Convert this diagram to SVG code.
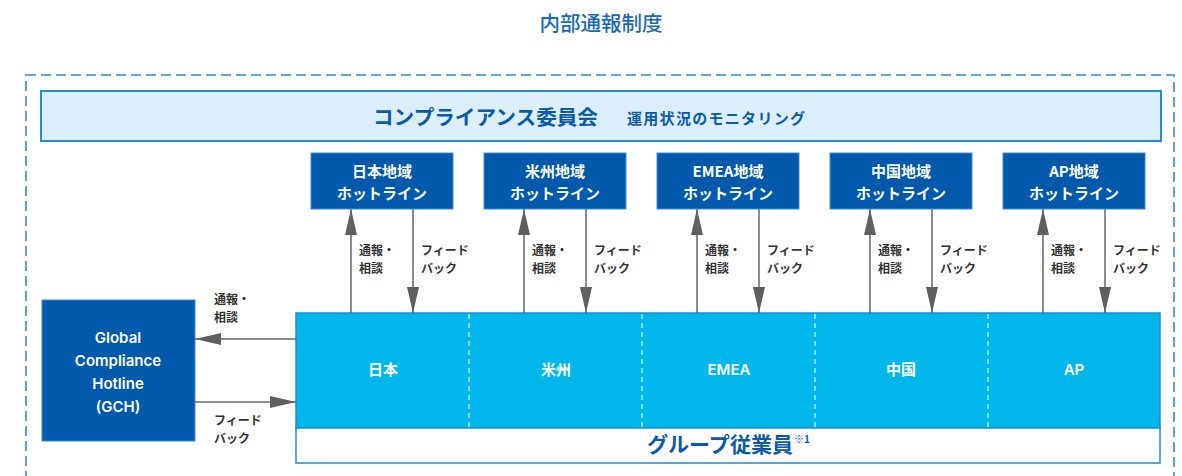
<svg xmlns="http://www.w3.org/2000/svg" width="1182" height="476" viewBox="0 0 1182 476">
<defs>
<style>
text{font-family:"Noto Sans CJK JP","Noto Sans",sans-serif;font-weight:700}
.hl rect{fill:#0059ab;stroke:#3d8fd6;stroke-width:1}
.hl text{fill:#fff;font-size:15px;text-anchor:middle}
.lbl{fill:#333;font-size:12px}
.conn line{stroke:#666;stroke-width:1.5}
.reg{fill:#fff;font-size:15px;text-anchor:middle}
.lat{font-family:Inter,"Noto Sans",sans-serif;font-weight:600}
.div{stroke:#fff;stroke-width:1;stroke-dasharray:5 4}
</style>
<marker id="ah" viewBox="0 0 26 12" refX="26" refY="6" markerWidth="26" markerHeight="12" markerUnits="userSpaceOnUse" orient="auto">
<path d="M0,0 L26,6 L0,12 Z" fill="#5f5f5f"/>
</marker>
</defs>
<rect width="1182" height="476" fill="#fff"/>
<text x="601" y="31" font-size="20.5" text-anchor="middle" fill="#1a6bb5" style="font-weight:500">内部通報制度</text>
<rect id="frame" x="26" y="75" width="1148" height="420" fill="none" stroke="#5aa8dc" stroke-width="2" stroke-dasharray="10 5"/>
<g id="committee">
<rect x="41" y="91" width="1120" height="50" fill="#dbeef9" stroke="#1f8ed4" stroke-width="2"/>
<text x="373" y="125" font-size="20.5" fill="#0b5aa8" textLength="225" lengthAdjust="spacingAndGlyphs">コンプライアンス委員会</text>
<text x="627" y="124" font-size="15" fill="#0b5aa8" textLength="178" lengthAdjust="spacing">運用状況のモニタリング</text>
</g>
<g id="hl-jp" class="hl"><rect x="311" y="153" width="142" height="56"/><text x="382" y="177">日本地域</text><text x="382" y="199">ホットライン</text></g>
<g id="hl-us" class="hl"><rect x="484" y="153" width="142" height="56"/><text x="555" y="177">米州地域</text><text x="555" y="199">ホットライン</text></g>
<g id="hl-emea" class="hl"><rect x="657" y="153" width="142" height="56"/><text x="728" y="177">EMEA地域</text><text x="728" y="199">ホットライン</text></g>
<g id="hl-cn" class="hl"><rect x="830" y="153" width="142" height="56"/><text x="901" y="177">中国地域</text><text x="901" y="199">ホットライン</text></g>
<g id="hl-ap" class="hl"><rect x="1003" y="153" width="142" height="56"/><text x="1074" y="177">AP地域</text><text x="1074" y="199">ホットライン</text></g>
<g id="gch">
<rect x="42" y="300" width="153" height="141" fill="#0059ab" stroke="#3d8fd6" stroke-width="1"/>
<g fill="#fff" font-size="15" text-anchor="middle">
<text class="lat" x="118" y="343">Global</text>
<text class="lat" x="118" y="366">Compliance</text>
<text class="lat" x="118" y="389">Hotline</text>
<text class="lat" x="118" y="412">(GCH)</text>
</g>
</g>
<g id="employees">
<rect x="296" y="313" width="864" height="115" fill="#00b7ec" stroke="#1a8fd4" stroke-width="1.5"/>
<line class="div" x1="469" y1="314" x2="469" y2="427"/>
<line class="div" x1="642" y1="314" x2="642" y2="427"/>
<line class="div" x1="815" y1="314" x2="815" y2="427"/>
<line class="div" x1="988" y1="314" x2="988" y2="427"/>
<text class="reg" x="383" y="375">日本</text>
<text class="reg" x="556" y="375">米州</text>
<text class="reg lat" x="729" y="375">EMEA</text>
<text class="reg" x="901" y="375">中国</text>
<text class="reg lat" x="1074" y="375">AP</text>
<rect x="296" y="428" width="864" height="35" fill="#fff" stroke="#1a8fd4" stroke-width="1.5"/>
<text x="647" y="452" font-size="21" fill="#0b5aa8" textLength="146" lengthAdjust="spacingAndGlyphs">グループ従業員</text>
<text x="794" y="443" font-size="10" fill="#0b5aa8">※1</text>
</g>
<g id="connectors" class="conn">
<line x1="351" y1="313" x2="351" y2="209" marker-end="url(#ah)"/>
<line x1="413" y1="209" x2="413" y2="313" marker-end="url(#ah)"/>
<line x1="524" y1="313" x2="524" y2="209" marker-end="url(#ah)"/>
<line x1="586" y1="209" x2="586" y2="313" marker-end="url(#ah)"/>
<line x1="697" y1="313" x2="697" y2="209" marker-end="url(#ah)"/>
<line x1="759" y1="209" x2="759" y2="313" marker-end="url(#ah)"/>
<line x1="870" y1="313" x2="870" y2="209" marker-end="url(#ah)"/>
<line x1="932" y1="209" x2="932" y2="313" marker-end="url(#ah)"/>
<line x1="1043" y1="313" x2="1043" y2="209" marker-end="url(#ah)"/>
<line x1="1105" y1="209" x2="1105" y2="313" marker-end="url(#ah)"/>
<line x1="296" y1="339" x2="195" y2="339" marker-end="url(#ah)"/>
<line x1="195" y1="402" x2="296" y2="402" marker-end="url(#ah)"/>
</g>
<g id="labels" class="lbl">
<text class="lbl" x="359" y="255">通報・</text><text class="lbl" x="359" y="273">相談</text>
<text class="lbl" x="421" y="255">フィード</text><text class="lbl" x="421" y="273">バック</text>
<text class="lbl" x="532" y="255">通報・</text><text class="lbl" x="532" y="273">相談</text>
<text class="lbl" x="594" y="255">フィード</text><text class="lbl" x="594" y="273">バック</text>
<text class="lbl" x="705" y="255">通報・</text><text class="lbl" x="705" y="273">相談</text>
<text class="lbl" x="767" y="255">フィード</text><text class="lbl" x="767" y="273">バック</text>
<text class="lbl" x="878" y="255">通報・</text><text class="lbl" x="878" y="273">相談</text>
<text class="lbl" x="940" y="255">フィード</text><text class="lbl" x="940" y="273">バック</text>
<text class="lbl" x="1051" y="255">通報・</text><text class="lbl" x="1051" y="273">相談</text>
<text class="lbl" x="1113" y="255">フィード</text><text class="lbl" x="1113" y="273">バック</text>
<text class="lbl" x="214" y="304">通報・</text><text class="lbl" x="214" y="322">相談</text>
<text class="lbl" x="214" y="425">フィード</text><text class="lbl" x="214" y="443">バック</text>
</g>
</svg>
